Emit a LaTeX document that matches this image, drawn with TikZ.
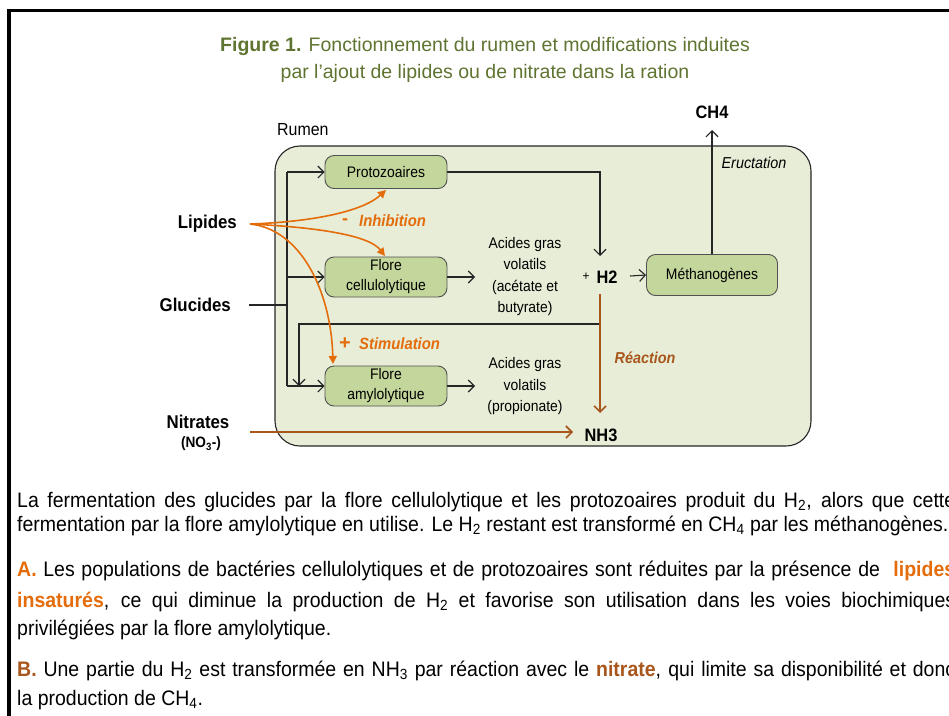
\documentclass[tikz,border=0pt]{standalone}
\usepackage{fontspec}
\setmainfont{Liberation Sans}
\newfontfamily\cond[FakeStretch=0.91]{Liberation Sans}
\newfontfamily\bodyfont[FakeStretch=0.928]{Liberation Sans}
\usetikzlibrary{arrows.meta}
\definecolor{titlegreen}{HTML}{5E7430}
\definecolor{boxgreen}{HTML}{C3D69B}
\definecolor{rumenfill}{HTML}{E7EDD7}
\definecolor{orng}{HTML}{E46C0A}
\definecolor{brwn}{HTML}{A8561C}
\definecolor{linegray}{HTML}{262626}
\newcommand\fs[2]{\fontsize{#1}{#2}\selectfont}
\tikzset{
  blk/.style={draw=linegray, line width=1.1pt},
  arr/.style={blk, -{Straight Barb[length=6pt,width=12pt,line width=1.1pt]}},
  orarr/.style={draw=orng, line width=1.6pt, -{Triangle[length=8pt,width=8pt]}},
  brarr/.style={draw=brwn, line width=1.6pt, -{Straight Barb[length=6pt,width=12pt,line width=1.6pt]}},
  gbox/.style={draw=linegray!80, line width=0.9pt, fill=boxgreen, rounded corners=9pt, align=center, font=\cond\fs{15.3}{20}, inner sep=0pt},
  lbl/.style={inner sep=0pt, font=\cond\fs{18.5}{20}\bfseries},
  body/.style={anchor=base west, inner sep=0pt, font=\bodyfont\fs{21}{24}},
}
\begin{document}
\begin{tikzpicture}[x=1pt,y=-1pt]
\useasboundingbox (0,0) rectangle (949,715);
% frame
\draw[line width=3.5pt, line join=miter] (9,720) -- (9,10.5) -- (955,10.5);
% title
\node[inner sep=0pt, text=titlegreen, font=\fs{19.5}{24}] (title1) at (485,46) {\textbf{Figure 1.} Fonctionnement du rumen et modifications induites};
\node[inner sep=0pt, text=titlegreen, font=\fs{19.5}{24}] (title2) at (485,73) {par l'ajout de lipides ou de nitrate dans la ration};
% rumen
\node[draw=linegray, line width=1.1pt, fill=rumenfill, rounded corners=25pt, minimum width=536pt, minimum height=300pt, inner sep=0pt] (rumen) at (543,296) {};
\node[anchor=west, inner sep=0pt, font=\cond\fs{17.5}{18}] (rumenlbl) at (277,130) {Rumen};
% boxes
\node[gbox, minimum width=122pt, minimum height=33pt] (proto) at (386,172) {Protozoaires};
\node[gbox, minimum width=122pt, minimum height=40pt] (cellu) at (386,277) {Flore\\cellulolytique};
\node[gbox, minimum width=122pt, minimum height=40pt] (amylo) at (386,386) {Flore\\amylolytique};
\node[gbox, minimum width=131pt, minimum height=41pt] (metha) at (712,275) {Méthanogènes};
% left labels
\node[lbl, anchor=east] (lipides) at (237,224) {Lipides};
\node[lbl, anchor=east] (glucides) at (231,305) {Glucides};
\node[lbl] (nitrates) at (198,422) {Nitrates};
\node[inner sep=0pt, font=\cond\fs{15}{16}\bfseries] (no3) at (201,444) {(NO\textsubscript{3}-)};
% products
\node[inner sep=0pt, font=\cond\fs{18}{18}\bfseries] (ch4) at (712,112) {CH4};
\node[inner sep=0pt, font=\cond\fs{15.8}{18}\itshape] (eruct) at (754,163) {Eructation};
\node[inner sep=0pt, font=\cond\fs{18}{18}\bfseries] (h2) at (607,277) {H2};
\node[inner sep=0pt, font=\cond\fs{13}{14}] (plus) at (586,277) {+};
\node[inner sep=0pt, font=\cond\fs{18}{18}\bfseries] (nh3) at (601,435) {NH3};
\node[inner sep=0pt, align=center, font=\cond\fs{15.3}{21.5}] (agv1) at (525,276.5) {Acides gras\\volatils\\(acétate et\\butyrate)};
\node[inner sep=0pt, align=center, font=\cond\fs{15.3}{21.5}] (agv2) at (525,386.5) {Acides gras\\volatils\\(propionate)};
% effect labels
\node[inner sep=0pt, text=orng, font=\fs{18}{20}\bfseries] (minus) at (345,222) {-};
\node[anchor=west, inner sep=0pt, text=orng, font=\cond\fs{16.3}{18}\bfseries\itshape] (inhib) at (359,221) {Inhibition};
\node[inner sep=0pt, text=orng, font=\fs{20}{20}\bfseries] (plus2) at (345,344) {+};
\node[anchor=west, inner sep=0pt, text=orng, font=\cond\fs{16.3}{18}\bfseries\itshape] (stim) at (359,344) {Stimulation};
\node[inner sep=0pt, text=brwn, font=\cond\fs{15.8}{18}\bfseries\itshape] (reaction) at (645,358) {Réaction};
% coordinates
\coordinate (gstart) at (249,305);
\coordinate (bus) at (287,305);
\coordinate (busT) at (287,172);
\coordinate (busM) at (287,277);
\coordinate (busB) at (287,386);
\coordinate (fbR) at (600,324);
\coordinate (fbL) at (299,324);
\coordinate (fbB) at (299,386);
\coordinate (h2top) at (600,256);
\coordinate (rxT) at (600,294);
\coordinate (rxB) at (600,413);
\coordinate (nitS) at (250,432);
\coordinate (nitE) at (573,432);
\coordinate (lip) at (250,224);
\coordinate (ch4b) at (712,130);
\coordinate (cellE) at (475,277);
\coordinate (amyE) at (475,386);
\coordinate (h2s) at (630,276);
% black connectors
\draw[blk] (gstart) -- (bus);
\draw[blk] (busT) -- (busB);
\draw[arr] (busT) -- (proto.west);
\draw[arr] (busM) -- (cellu.west);
\draw[arr] (busB) -- (amylo.west);
\draw[arr] (fbR) -- (fbL) -- (fbB);
\draw[arr] (proto.east) -| (h2top);
\draw[arr] (cellu.east) -- (cellE);
\draw[arr] (amylo.east) -- (amyE);
\draw[arr] (h2s) -- (metha.west);
\draw[arr] (metha.north) -- (ch4b);
% brown connectors
\draw[brarr] (rxT) -- (rxB);
\draw[brarr] (nitS) -- (nitE);
% orange curves
\draw[orarr] (lip) .. controls (310,222) and (362,212) .. (386,190);
\draw[orarr] (lip) .. controls (310,227) and (368,234) .. (385,256);
\draw[orarr] (lip) .. controls (300,229) and (331,290) .. (333,364);
% body text
\node[body] (t1) at (17,507) {\makebox[938pt][s]{La fermentation des glucides par la flore cellulolytique et les protozoaires produit du H\textsubscript{2}, alors que cette}};
\node[body] (t2) at (17,531) {fermentation par la flore amylolytique en utilise. Le H\textsubscript{2} restant est transformé en CH\textsubscript{4} par les méthanogènes.};
\node[body] (t3) at (17,576) {\makebox[938pt][s]{{\color{orng}\textbf{A.}} Les populations de bactéries cellulolytiques et de protozoaires sont réduites par la présence de \ {\color{orng}\textbf{lipides}}}};
\node[body] (t4) at (17,607) {\makebox[938pt][s]{{\color{orng}\textbf{insaturés}}, ce qui diminue la production de H\textsubscript{2} et favorise son utilisation dans les voies biochimiques}};
\node[body] (t5) at (17,635) {privilégiées par la flore amylolytique.};
\node[body] (t6) at (17,676) {\makebox[938pt][s]{{\color{brwn}\textbf{B.}} Une partie du H\textsubscript{2} est transformée en NH\textsubscript{3} par réaction avec le {\color{brwn}\textbf{nitrate}}, qui limite sa disponibilité et donc}};
\node[body] (t7) at (17,705) {la production de CH\textsubscript{4}.};
\end{tikzpicture}
\end{document}
